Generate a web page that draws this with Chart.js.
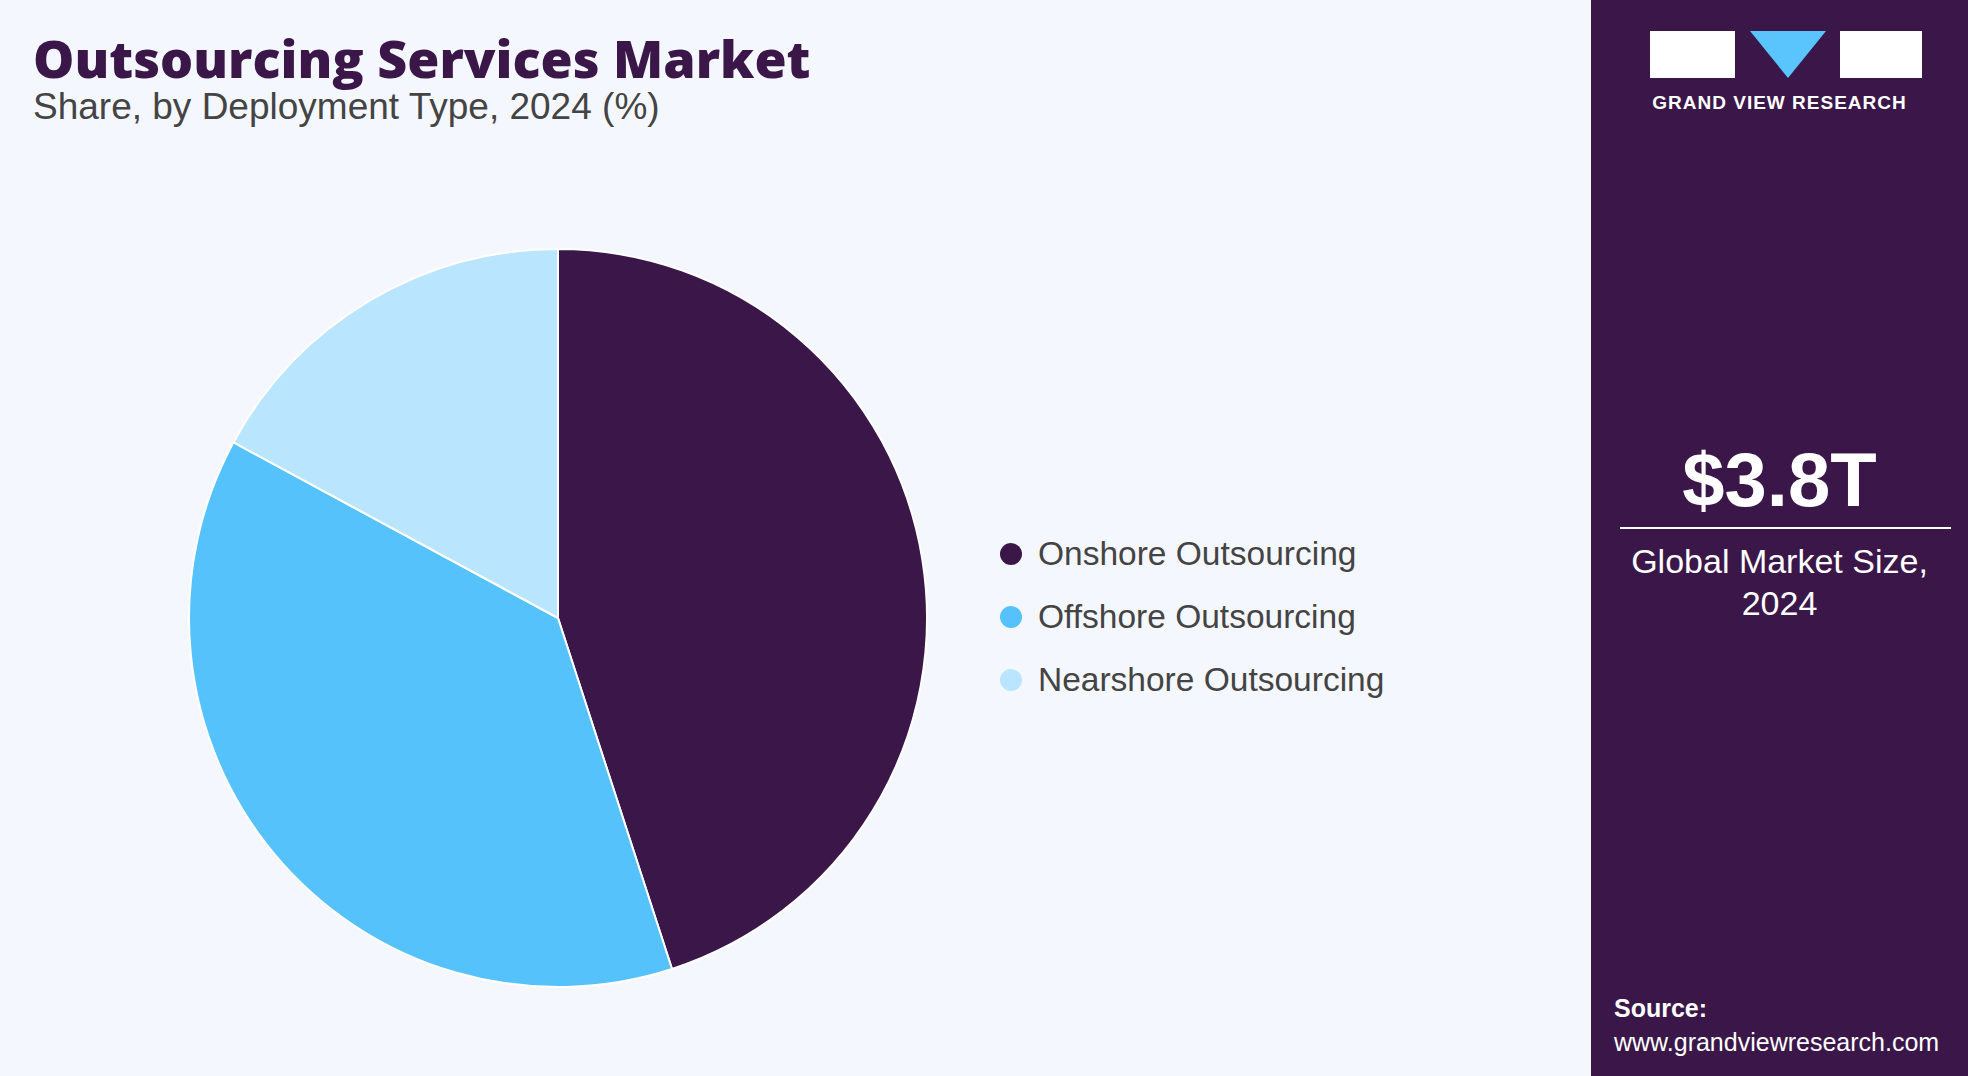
<!DOCTYPE html>
<html><head><meta charset="utf-8">
<script src="https://cdn.jsdelivr.net/npm/chart.js@4"></script>
<style>
body{margin:0;width:1968px;height:1076px;background:#f5f7fe;font-family:"Liberation Sans",Arial,sans-serif;position:relative;overflow:hidden}
#title{position:absolute;left:33px;top:22px;font-size:52px;color:#3a1748;font-family:"Open Sans",sans-serif;font-weight:800}
#sub{position:absolute;left:33px;top:86px;font-size:37px;color:#444}
#wrap{position:absolute;left:188px;top:248px;width:740px;height:740px}
#legend{position:absolute;left:1000px;top:522px;font-size:33.5px;color:#444}
.li{display:flex;align-items:center;height:63px}
.dot{width:22px;height:22px;border-radius:50%;margin-right:16px}
#side{position:absolute;left:1591px;top:0;width:377px;height:1076px;background:#3a1748;color:#fff}
</style></head><body>
<div id="title">Outsourcing Services Market</div>
<div id="sub">Share, by Deployment Type, 2024 (%)</div>
<div id="wrap"><canvas id="pie"></canvas></div>
<div id="legend"></div>
<div id="side">
  <div style="position:absolute;left:59px;top:31px;width:270px;height:47px">
    <div style="position:absolute;left:0;top:0;width:85px;height:47px;background:#fff"></div>
    <div style="position:absolute;left:100px;top:0;width:0;height:0;border-left:38px solid transparent;border-right:38px solid transparent;border-top:47px solid #5ac4fc"></div>
    <div style="position:absolute;left:190px;top:0;width:82px;height:47px;background:#fff"></div>
  </div>
  <div style="position:absolute;left:0;width:377px;text-align:center;top:92px;font-size:19px;font-weight:bold;letter-spacing:1px">GRAND VIEW RESEARCH</div>
  <div style="position:absolute;left:0;width:377px;text-align:center;top:436px;font-size:76px;font-weight:bold">$3.8T</div>
  <div style="position:absolute;left:29px;width:331px;top:527px;height:2px;background:#fff"></div>
  <div style="position:absolute;left:0;width:377px;text-align:center;top:540px;font-size:34px;line-height:42px">Global Market Size,<br>2024</div>
  <div style="position:absolute;left:23px;top:994px;font-size:25px;font-weight:bold">Source:</div>
  <div style="position:absolute;left:23px;top:1028px;font-size:25px">www.grandviewresearch.com</div>
</div>
<script>
const labels = ['Onshore Outsourcing', 'Offshore Outsourcing', 'Nearshore Outsourcing'];
const shares = [45.0, 37.9, 17.1];
const colors = ['#3a1748', '#56c2fb', '#bae5fe'];

document.getElementById('legend').innerHTML = labels.map((l, i) =>
  `<div class="li"><span class="dot" style="background:${colors[i]}"></span>${l}</div>`).join('');

new Chart(document.getElementById('pie'), {
  type: 'pie',
  data: { labels: labels, datasets: [{ data: shares, backgroundColor: colors, borderColor: '#fff', borderWidth: 2 }] },
  options: {
    responsive: true, maintainAspectRatio: false, animation: false,
    plugins: { legend: { display: false }, tooltip: { enabled: false } },
    layout: { padding: 0 }
  }
});
</script>
</body></html>
